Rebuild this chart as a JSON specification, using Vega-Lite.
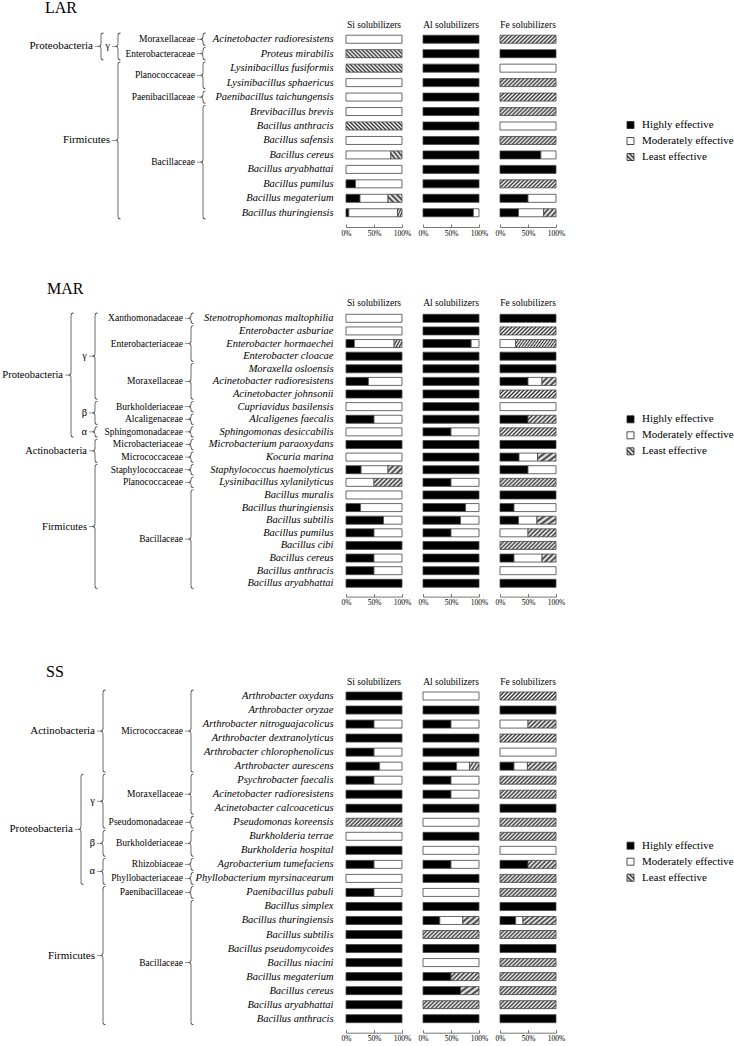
{
"$schema": "https://vega.github.io/schema/vega-lite/v6.json",
"background": "white",
"padding": 0,
"spacing": 44,
"config": {
  "view": {"stroke": null},
  "font": "Liberation Serif",
  "text": {"font": "Liberation Serif", "color": "#000"},
  "title": {"font": "Liberation Serif", "fontSize": 9.5, "fontWeight": "normal", "color": "#000", "offset": 4.5, "baseline": "alphabetic"},
  "axis": {"labelFont": "Liberation Serif", "labelColor": "#000"}
},
"datasets": {
"LAR": [
{"sp":"Acinetobacter radioresistens","ph":"Proteobacteria","cl":"γ","fa":"Moraxellaceae","Si_m":100,"Al_h":100,"Fe_p":100},
{"sp":"Proteus mirabilis","ph":"Proteobacteria","cl":"γ","fa":"Enterobacteraceae","Si_p":100,"Al_h":100,"Fe_h":100},
{"sp":"Lysinibacillus fusiformis","ph":"Firmicutes","fa":"Planococcaceae","Si_p":100,"Al_h":100,"Fe_m":100},
{"sp":"Lysinibacillus sphaericus","ph":"Firmicutes","fa":"Planococcaceae","Si_m":100,"Al_h":100,"Fe_p":100},
{"sp":"Paenibacillus taichungensis","ph":"Firmicutes","fa":"Paenibacillaceae","Si_m":100,"Al_h":100,"Fe_p":100},
{"sp":"Brevibacillus brevis","ph":"Firmicutes","fa":"Bacillaceae","Si_m":100,"Al_h":100,"Fe_p":100},
{"sp":"Bacillus anthracis","ph":"Firmicutes","fa":"Bacillaceae","Si_p":100,"Al_h":100,"Fe_m":100},
{"sp":"Bacillus safensis","ph":"Firmicutes","fa":"Bacillaceae","Si_m":100,"Al_h":100,"Fe_p":100},
{"sp":"Bacillus cereus","ph":"Firmicutes","fa":"Bacillaceae","Si_m":80,"Si_p":20,"Al_h":100,"Fe_h":73,"Fe_m":27},
{"sp":"Bacillus aryabhattai","ph":"Firmicutes","fa":"Bacillaceae","Si_m":100,"Al_h":100,"Fe_h":100},
{"sp":"Bacillus pumilus","ph":"Firmicutes","fa":"Bacillaceae","Si_h":17,"Si_m":83,"Al_h":100,"Fe_p":100},
{"sp":"Bacillus megaterium","ph":"Firmicutes","fa":"Bacillaceae","Si_h":25,"Si_m":50,"Si_p":25,"Al_h":100,"Fe_h":50,"Fe_m":50},
{"sp":"Bacillus thuringiensis","ph":"Firmicutes","fa":"Bacillaceae","Si_h":5,"Si_m":87,"Si_p":8,"Al_h":90,"Al_m":10,"Fe_h":33,"Fe_m":45,"Fe_p":22}
],
"MAR": [
{"sp":"Stenotrophomonas maltophilia","ph":"Proteobacteria","cl":"γ","fa":"Xanthomonadaceae","Si_m":100,"Al_h":100,"Fe_h":100},
{"sp":"Enterobacter asburiae","ph":"Proteobacteria","cl":"γ","fa":"Enterobacteriaceae","Si_m":100,"Al_h":100,"Fe_p":100},
{"sp":"Enterobacter hormaechei","ph":"Proteobacteria","cl":"γ","fa":"Enterobacteriaceae","Si_h":15,"Si_m":71,"Si_p":14,"Al_h":86,"Al_m":14,"Fe_m":28,"Fe_p":72},
{"sp":"Enterobacter cloacae","ph":"Proteobacteria","cl":"γ","fa":"Enterobacteriaceae","Si_h":100,"Al_h":100,"Fe_h":100},
{"sp":"Moraxella osloensis","ph":"Proteobacteria","cl":"γ","fa":"Moraxellaceae","Si_h":100,"Al_h":100,"Fe_h":100},
{"sp":"Acinetobacter radioresistens","ph":"Proteobacteria","cl":"γ","fa":"Moraxellaceae","Si_h":40,"Si_m":60,"Al_h":100,"Fe_h":50,"Fe_m":25,"Fe_p":25},
{"sp":"Acinetobacter johnsonii","ph":"Proteobacteria","cl":"γ","fa":"Moraxellaceae","Si_h":100,"Al_h":100,"Fe_p":100},
{"sp":"Cupriavidus basilensis","ph":"Proteobacteria","cl":"β","fa":"Burkholderiaceae","Si_m":100,"Al_h":100,"Fe_m":100},
{"sp":"Alcaligenes faecalis","ph":"Proteobacteria","cl":"β","fa":"Alcaligenaceae","Si_h":50,"Si_m":50,"Al_h":100,"Fe_h":50,"Fe_p":50},
{"sp":"Sphingomonas desiccabilis","ph":"Proteobacteria","cl":"α","fa":"Sphingomonadaceae","Si_m":100,"Al_h":50,"Al_m":50,"Fe_p":100},
{"sp":"Microbacterium paraoxydans","ph":"Actinobacteria","fa":"Microbacteriaceae","Si_h":100,"Al_h":100,"Fe_h":100},
{"sp":"Kocuria marina","ph":"Actinobacteria","fa":"Micrococcaceae","Si_m":100,"Al_h":100,"Fe_h":34,"Fe_m":33,"Fe_p":33},
{"sp":"Staphylococcus haemolyticus","ph":"Firmicutes","fa":"Staphylococcaceae","Si_h":27,"Si_m":48,"Si_p":25,"Al_h":100,"Fe_h":50,"Fe_m":50},
{"sp":"Lysinibacillus xylanilyticus","ph":"Firmicutes","fa":"Planococcaceae","Si_m":50,"Si_p":50,"Al_h":50,"Al_m":50,"Fe_p":100},
{"sp":"Bacillus muralis","ph":"Firmicutes","fa":"Bacillaceae","Si_m":100,"Al_h":100,"Fe_h":100},
{"sp":"Bacillus thuringiensis","ph":"Firmicutes","fa":"Bacillaceae","Si_h":26,"Si_m":74,"Al_h":76,"Al_m":24,"Fe_h":25,"Fe_m":75},
{"sp":"Bacillus subtilis","ph":"Firmicutes","fa":"Bacillaceae","Si_h":67,"Si_m":33,"Al_h":67,"Al_m":33,"Fe_h":33,"Fe_m":33,"Fe_p":34},
{"sp":"Bacillus pumilus","ph":"Firmicutes","fa":"Bacillaceae","Si_h":50,"Si_m":50,"Al_h":50,"Al_m":50,"Fe_m":50,"Fe_p":50},
{"sp":"Bacillus cibi","ph":"Firmicutes","fa":"Bacillaceae","Si_h":100,"Al_h":100,"Fe_p":100},
{"sp":"Bacillus cereus","ph":"Firmicutes","fa":"Bacillaceae","Si_h":50,"Si_m":50,"Al_h":100,"Fe_h":25,"Fe_m":50,"Fe_p":25},
{"sp":"Bacillus anthracis","ph":"Firmicutes","fa":"Bacillaceae","Si_h":50,"Si_m":50,"Al_h":100,"Fe_m":100},
{"sp":"Bacillus aryabhattai","ph":"Firmicutes","fa":"Bacillaceae","Si_h":100,"Al_h":100,"Fe_h":100}
],
"SS": [
{"sp":"Arthrobacter oxydans","ph":"Actinobacteria","fa":"Micrococcaceae","Si_h":100,"Al_m":100,"Fe_p":100},
{"sp":"Arthrobacter oryzae","ph":"Actinobacteria","fa":"Micrococcaceae","Si_h":100,"Al_h":100,"Fe_h":100},
{"sp":"Arthrobacter nitroguajacolicus","ph":"Actinobacteria","fa":"Micrococcaceae","Si_h":50,"Si_m":50,"Al_h":50,"Al_m":50,"Fe_m":50,"Fe_p":50},
{"sp":"Arthrobacter dextranolyticus","ph":"Actinobacteria","fa":"Micrococcaceae","Si_h":100,"Al_h":100,"Fe_p":100},
{"sp":"Arthrobacter chlorophenolicus","ph":"Actinobacteria","fa":"Micrococcaceae","Si_h":50,"Si_m":50,"Al_h":100,"Fe_m":100},
{"sp":"Arthrobacter aurescens","ph":"Actinobacteria","fa":"Micrococcaceae","Si_h":60,"Si_m":40,"Al_h":60,"Al_m":23,"Al_p":17,"Fe_h":25,"Fe_m":24,"Fe_p":51},
{"sp":"Psychrobacter faecalis","ph":"Proteobacteria","cl":"γ","fa":"Moraxellaceae","Si_h":50,"Si_m":50,"Al_h":50,"Al_m":50,"Fe_p":100},
{"sp":"Acinetobacter radioresistens","ph":"Proteobacteria","cl":"γ","fa":"Moraxellaceae","Si_h":100,"Al_h":50,"Al_m":50,"Fe_p":100},
{"sp":"Acinetobacter calcoaceticus","ph":"Proteobacteria","cl":"γ","fa":"Moraxellaceae","Si_h":100,"Al_h":100,"Fe_h":100},
{"sp":"Pseudomonas koreensis","ph":"Proteobacteria","cl":"γ","fa":"Pseudomonadaceae","Si_p":100,"Al_m":100,"Fe_p":100},
{"sp":"Burkholderia terrae","ph":"Proteobacteria","cl":"β","fa":"Burkholderiaceae","Si_m":100,"Al_h":100,"Fe_p":100},
{"sp":"Burkholderia hospital","ph":"Proteobacteria","cl":"β","fa":"Burkholderiaceae","Si_h":100,"Al_m":100,"Fe_m":100},
{"sp":"Agrobacterium tumefaciens","ph":"Proteobacteria","cl":"α","fa":"Rhizobiaceae","Si_h":50,"Si_m":50,"Al_h":50,"Al_m":50,"Fe_h":50,"Fe_p":50},
{"sp":"Phyllobacterium myrsinacearum","ph":"Proteobacteria","cl":"α","fa":"Phyllobacteriaceae","Si_m":100,"Al_h":100,"Fe_p":100},
{"sp":"Paenibacillus pabuli","ph":"Firmicutes","fa":"Paenibacillaceae","Si_h":50,"Si_m":50,"Al_m":100,"Fe_p":100},
{"sp":"Bacillus simplex","ph":"Firmicutes","fa":"Bacillaceae","Si_h":100,"Al_h":100,"Fe_h":100},
{"sp":"Bacillus thuringiensis","ph":"Firmicutes","fa":"Bacillaceae","Si_h":100,"Al_h":30,"Al_m":41,"Al_p":29,"Fe_h":28,"Fe_m":13,"Fe_p":59},
{"sp":"Bacillus subtilis","ph":"Firmicutes","fa":"Bacillaceae","Si_h":100,"Al_p":100,"Fe_p":100},
{"sp":"Bacillus pseudomycoides","ph":"Firmicutes","fa":"Bacillaceae","Si_h":100,"Al_h":100,"Fe_h":100},
{"sp":"Bacillus niacini","ph":"Firmicutes","fa":"Bacillaceae","Si_h":100,"Al_m":100,"Fe_p":100},
{"sp":"Bacillus megaterium","ph":"Firmicutes","fa":"Bacillaceae","Si_h":100,"Al_h":50,"Al_p":50,"Fe_p":100},
{"sp":"Bacillus cereus","ph":"Firmicutes","fa":"Bacillaceae","Si_h":100,"Al_h":67,"Al_p":33,"Fe_p":100},
{"sp":"Bacillus aryabhattai","ph":"Firmicutes","fa":"Bacillaceae","Si_h":100,"Al_p":100,"Fe_p":100},
{"sp":"Bacillus anthracis","ph":"Firmicutes","fa":"Bacillaceae","Si_h":100,"Al_h":100,"Fe_h":100}
],
"leg": [{"cat":"Highly effective","k":"h"},{"cat":"Moderately effective","k":"m"},{"cat":"Least effective","k":"p"}]
},
"vconcat": [
{"hconcat": [
 {"width":325,"height":188,"data":{"name":"LAR"},
  "title":{"text":"LAR","anchor":"start","frame":"group","fontSize":16,"dx":45,"offset":15.7},
  "transform":[{"window":[{"op":"row_number","as":"row"}]},{"fold":["ph","cl","fa"],"as":["rank","grp"]},{"filter":"datum.grp != null"},{"aggregate":[{"op":"min","field":"row","as":"r0"},{"op":"max","field":"row","as":"r1"},{"op":"mean","field":"row","as":"rm"},{"op":"valid","field":"cl","as":"nc"}],"groupby":["rank","grp"]}],
  "encoding":{"x":{"field":"rank","type":"nominal","scale":{"type":"point","domain":["ph","cl","s1","s2","s3","s4","fa"],"range":[101,203],"padding":0},"axis":null}},
  "layer":[
   {"transform":[{"filter":"datum.rank != 'ph' || datum.nc > 0"}],
    "layer":[
     {"mark":{"type":"arc","theta":4.712,"theta2":6.2832,"radius":2.9,"radius2":2.1,"fill":"#444","xOffset":2.5,"yOffset":-3.725},"encoding":{"y":{"field":"r0","type":"quantitative","stack":null,"scale":{"domain":[0.5,13.5],"reverse":true,"nice":false,"zero":false},"axis":null}}},
     {"mark":{"type":"rule","color":"#444","strokeWidth":0.8,"yOffset":-3.725,"y2Offset":-2.5},"encoding":{"y":{"field":"r0","type":"quantitative","scale":{"domain":[0.5,13.5],"reverse":true,"nice":false,"zero":false},"axis":null},"y2":{"field":"rm"}}},
     {"mark":{"type":"arc","theta":1.5708,"theta2":3.1416,"radius":2.9,"radius2":2.1,"fill":"#444","xOffset":-2.5,"yOffset":-2.5},"encoding":{"y":{"field":"rm","type":"quantitative","stack":null,"scale":{"domain":[0.5,13.5],"reverse":true,"nice":false,"zero":false},"axis":null}}},
     {"mark":{"type":"arc","theta":0,"theta2":1.5708,"radius":2.9,"radius2":2.1,"fill":"#444","xOffset":-2.5,"yOffset":2.5},"encoding":{"y":{"field":"rm","type":"quantitative","stack":null,"scale":{"domain":[0.5,13.5],"reverse":true,"nice":false,"zero":false},"axis":null}}},
     {"mark":{"type":"rule","color":"#444","strokeWidth":0.8,"yOffset":2.5,"y2Offset":3.725},"encoding":{"y":{"field":"rm","type":"quantitative","scale":{"domain":[0.5,13.5],"reverse":true,"nice":false,"zero":false},"axis":null},"y2":{"field":"r1"}}},
     {"mark":{"type":"arc","theta":3.1416,"theta2":4.712,"radius":2.9,"radius2":2.1,"fill":"#444","xOffset":2.5,"yOffset":3.725},"encoding":{"y":{"field":"r1","type":"quantitative","stack":null,"scale":{"domain":[0.5,13.5],"reverse":true,"nice":false,"zero":false},"axis":null}}},
     {"mark":{"type":"tick","orient":"horizontal","size":3.5,"thickness":0.8,"color":"#444","xOffset":-4.3},"encoding":{"y":{"field":"rm","type":"quantitative","scale":{"domain":[0.5,13.5],"reverse":true,"nice":false,"zero":false},"axis":null}}}
    ]},
   {"transform":[{"filter":"datum.rank == 'ph' && datum.nc == 0"}],
    "encoding":{"x":{"datum":"cl","type":"nominal"}},
    "layer":[
     {"mark":{"type":"arc","theta":4.712,"theta2":6.2832,"radius":2.9,"radius2":2.1,"fill":"#444","xOffset":2.5,"yOffset":-3.725},"encoding":{"y":{"field":"r0","type":"quantitative","stack":null,"scale":{"domain":[0.5,13.5],"reverse":true,"nice":false,"zero":false},"axis":null}}},
     {"mark":{"type":"rule","color":"#444","strokeWidth":0.8,"yOffset":-3.725,"y2Offset":-2.5},"encoding":{"y":{"field":"r0","type":"quantitative","scale":{"domain":[0.5,13.5],"reverse":true,"nice":false,"zero":false},"axis":null},"y2":{"field":"rm"}}},
     {"mark":{"type":"arc","theta":1.5708,"theta2":3.1416,"radius":2.9,"radius2":2.1,"fill":"#444","xOffset":-2.5,"yOffset":-2.5},"encoding":{"y":{"field":"rm","type":"quantitative","stack":null,"scale":{"domain":[0.5,13.5],"reverse":true,"nice":false,"zero":false},"axis":null}}},
     {"mark":{"type":"arc","theta":0,"theta2":1.5708,"radius":2.9,"radius2":2.1,"fill":"#444","xOffset":-2.5,"yOffset":2.5},"encoding":{"y":{"field":"rm","type":"quantitative","stack":null,"scale":{"domain":[0.5,13.5],"reverse":true,"nice":false,"zero":false},"axis":null}}},
     {"mark":{"type":"rule","color":"#444","strokeWidth":0.8,"yOffset":2.5,"y2Offset":3.725},"encoding":{"y":{"field":"rm","type":"quantitative","scale":{"domain":[0.5,13.5],"reverse":true,"nice":false,"zero":false},"axis":null},"y2":{"field":"r1"}}},
     {"mark":{"type":"arc","theta":3.1416,"theta2":4.712,"radius":2.9,"radius2":2.1,"fill":"#444","xOffset":2.5,"yOffset":3.725},"encoding":{"y":{"field":"r1","type":"quantitative","stack":null,"scale":{"domain":[0.5,13.5],"reverse":true,"nice":false,"zero":false},"axis":null}}},
     {"mark":{"type":"tick","orient":"horizontal","size":3.5,"thickness":0.8,"color":"#444","xOffset":-4.3},"encoding":{"y":{"field":"rm","type":"quantitative","scale":{"domain":[0.5,13.5],"reverse":true,"nice":false,"zero":false},"axis":null}}}
    ]},
   {"transform":[{"filter":"datum.rank == 'ph' && datum.nc > 0"}],"mark":{"type":"text","align":"right","baseline":"middle","fontSize":11,"xOffset":-8},"encoding":{"y":{"field":"rm","type":"quantitative","scale":{"domain":[0.5,13.5],"reverse":true,"nice":false,"zero":false},"axis":null},"text":{"field":"grp"}}},
   {"transform":[{"filter":"datum.rank == 'ph' && datum.nc == 0"}],"mark":{"type":"text","align":"right","baseline":"middle","fontSize":11,"xOffset":-8},"encoding":{"x":{"datum":"cl","type":"nominal"},"y":{"field":"rm","type":"quantitative","scale":{"domain":[0.5,13.5],"reverse":true,"nice":false,"zero":false},"axis":null},"text":{"field":"grp"}}},
   {"transform":[{"filter":"datum.rank == 'cl'"}],"mark":{"type":"text","align":"right","baseline":"middle","fontSize":10,"xOffset":-8},"encoding":{"y":{"field":"rm","type":"quantitative","scale":{"domain":[0.5,13.5],"reverse":true,"nice":false,"zero":false},"axis":null},"text":{"field":"grp"}}},
   {"transform":[{"filter":"datum.rank == 'fa'"}],"mark":{"type":"text","align":"right","baseline":"middle","fontSize":9.5,"xOffset":-8},"encoding":{"y":{"field":"rm","type":"quantitative","scale":{"domain":[0.5,13.5],"reverse":true,"nice":false,"zero":false},"axis":null},"text":{"field":"grp"}}}
  ]},
 {"width":56,"height":188,"data":{"name":"LAR"},"title":{"text":"Si solubilizers","offset":2.5},
  "transform":[{"fold":["Si_h","Si_m","Si_p"],"as":["cat","v"]},{"filter":"datum.v > 0"},{"stack":"v","groupby":["sp"],"as":["x0","x1"]}],
  "mark":{"type":"rect","stroke":"#444","strokeWidth":0.8},
  "encoding":{
   "y":{"field":"sp","type":"nominal","sort":null,"scale":{"paddingInner":0.446,"paddingOuter":0.223},"axis":{"title":null,"domain":false,"ticks":false,"labelPadding":13,"labelFontStyle":"italic","labelFontSize":10.5,"labelLimit":300}},
   "x":{"field":"x0","type":"quantitative","scale":{"domain":[0,100]},"axis":{"values":[0,50,100],"labelExpr":"datum.value + '%'","title":null,"grid":false,"offset":7,"tickSize":-3,"labelPadding":5,"labelFontSize":7.5,"labelFlush":false,"domainColor":"#555","tickColor":"#555","domainWidth":0.8,"tickWidth":0.8}},
   "x2":{"field":"x1"},
   "fill":{"condition":[{"test":"indexof(datum.cat,'_h')>0","value":"#000"},{"test":"indexof(datum.cat,'_m')>0","value":"#fff"},{"test":"datum.v >= 60","value":{"gradient":"linear","x1":0,"y1":1,"x2":1.12,"y2":0.84,"stops":[{"offset":0,"color":"#333"},{"offset":0.031,"color":"#fff"},{"offset":0.063,"color":"#333"},{"offset":0.094,"color":"#fff"},{"offset":0.125,"color":"#333"},{"offset":0.156,"color":"#fff"},{"offset":0.188,"color":"#333"},{"offset":0.219,"color":"#fff"},{"offset":0.25,"color":"#333"},{"offset":0.281,"color":"#fff"},{"offset":0.313,"color":"#333"},{"offset":0.344,"color":"#fff"},{"offset":0.375,"color":"#333"},{"offset":0.406,"color":"#fff"},{"offset":0.438,"color":"#333"},{"offset":0.469,"color":"#fff"},{"offset":0.5,"color":"#333"},{"offset":0.531,"color":"#fff"},{"offset":0.563,"color":"#333"},{"offset":0.594,"color":"#fff"},{"offset":0.625,"color":"#333"},{"offset":0.656,"color":"#fff"},{"offset":0.688,"color":"#333"},{"offset":0.719,"color":"#fff"},{"offset":0.75,"color":"#333"},{"offset":0.781,"color":"#fff"},{"offset":0.813,"color":"#333"},{"offset":0.844,"color":"#fff"},{"offset":0.875,"color":"#333"},{"offset":0.906,"color":"#fff"},{"offset":0.938,"color":"#333"},{"offset":0.969,"color":"#fff"},{"offset":1,"color":"#333"}]}}],
    "value":{"gradient":"linear","x1":0,"y1":1,"x2":1.185,"y2":0.325,"stops":[{"offset":0,"color":"#333"},{"offset":0.125,"color":"#fff"},{"offset":0.25,"color":"#333"},{"offset":0.375,"color":"#fff"},{"offset":0.5,"color":"#333"},{"offset":0.625,"color":"#fff"},{"offset":0.75,"color":"#333"},{"offset":0.875,"color":"#fff"},{"offset":1,"color":"#333"}]}}
  }},
 {"width":56,"height":188,"data":{"name":"LAR"},"title":{"text":"Al solubilizers","offset":2.5},
  "transform":[{"fold":["Al_h","Al_m","Al_p"],"as":["cat","v"]},{"filter":"datum.v > 0"},{"stack":"v","groupby":["sp"],"as":["x0","x1"]}],
  "mark":{"type":"rect","stroke":"#444","strokeWidth":0.8},
  "encoding":{
   "y":{"field":"sp","type":"nominal","sort":null,"scale":{"paddingInner":0.446,"paddingOuter":0.223},"axis":null},
   "x":{"field":"x0","type":"quantitative","scale":{"domain":[0,100]},"axis":{"values":[0,50,100],"labelExpr":"datum.value + '%'","title":null,"grid":false,"offset":7,"tickSize":-3,"labelPadding":5,"labelFontSize":7.5,"labelFlush":false,"domainColor":"#555","tickColor":"#555","domainWidth":0.8,"tickWidth":0.8}},
   "x2":{"field":"x1"},
   "fill":{"condition":[{"test":"indexof(datum.cat,'_h')>0","value":"#000"}],"value":"#fff"}
  }},
 {"width":56,"height":188,"data":{"name":"LAR"},"title":{"text":"Fe solubilizers","offset":2.5},
  "transform":[{"fold":["Fe_h","Fe_m","Fe_p"],"as":["cat","v"]},{"filter":"datum.v > 0"},{"stack":"v","groupby":["sp"],"as":["x0","x1"]}],
  "mark":{"type":"rect","stroke":"#444","strokeWidth":0.8},
  "encoding":{
   "y":{"field":"sp","type":"nominal","sort":null,"scale":{"paddingInner":0.446,"paddingOuter":0.223},"axis":null},
   "x":{"field":"x0","type":"quantitative","scale":{"domain":[0,100]},"axis":{"values":[0,50,100],"labelExpr":"datum.value + '%'","title":null,"grid":false,"offset":7,"tickSize":-3,"labelPadding":5,"labelFontSize":7.5,"labelFlush":false,"domainColor":"#555","tickColor":"#555","domainWidth":0.8,"tickWidth":0.8}},
   "x2":{"field":"x1"},
   "fill":{"condition":[{"test":"indexof(datum.cat,'_h')>0","value":"#000"},{"test":"indexof(datum.cat,'_m')>0","value":"#fff"},{"test":"datum.v >= 60","value":{"gradient":"linear","x1":0,"y1":0,"x2":1.12,"y2":0.16,"stops":[{"offset":0,"color":"#333"},{"offset":0.031,"color":"#fff"},{"offset":0.063,"color":"#333"},{"offset":0.094,"color":"#fff"},{"offset":0.125,"color":"#333"},{"offset":0.156,"color":"#fff"},{"offset":0.188,"color":"#333"},{"offset":0.219,"color":"#fff"},{"offset":0.25,"color":"#333"},{"offset":0.281,"color":"#fff"},{"offset":0.313,"color":"#333"},{"offset":0.344,"color":"#fff"},{"offset":0.375,"color":"#333"},{"offset":0.406,"color":"#fff"},{"offset":0.438,"color":"#333"},{"offset":0.469,"color":"#fff"},{"offset":0.5,"color":"#333"},{"offset":0.531,"color":"#fff"},{"offset":0.563,"color":"#333"},{"offset":0.594,"color":"#fff"},{"offset":0.625,"color":"#333"},{"offset":0.656,"color":"#fff"},{"offset":0.688,"color":"#333"},{"offset":0.719,"color":"#fff"},{"offset":0.75,"color":"#333"},{"offset":0.781,"color":"#fff"},{"offset":0.813,"color":"#333"},{"offset":0.844,"color":"#fff"},{"offset":0.875,"color":"#333"},{"offset":0.906,"color":"#fff"},{"offset":0.938,"color":"#333"},{"offset":0.969,"color":"#fff"},{"offset":1,"color":"#333"}]}}],
    "value":{"gradient":"linear","x1":0,"y1":0,"x2":1.185,"y2":0.675,"stops":[{"offset":0,"color":"#333"},{"offset":0.125,"color":"#fff"},{"offset":0.25,"color":"#333"},{"offset":0.375,"color":"#fff"},{"offset":0.5,"color":"#333"},{"offset":0.625,"color":"#fff"},{"offset":0.75,"color":"#333"},{"offset":0.875,"color":"#fff"},{"offset":1,"color":"#333"}]}}
  }},
 {"width":150,"height":188,"data":{"name":"leg"},
  "encoding":{"y":{"field":"cat","type":"nominal","sort":null,"scale":{"type":"point","range":[93,125],"padding":0},"axis":null}},
  "layer":[
   {"mark":{"type":"square","size":49,"opacity":1,"stroke":"#222","strokeWidth":0.8},"encoding":{"x":{"datum":"sw","type":"nominal","scale":{"type":"point","domain":["sw","lab"],"range":[53.5,65],"padding":0},"axis":null},"fill":{"condition":[{"test":"datum.k=='h'","value":"#000"},{"test":"datum.k=='m'","value":"#fff"}],"value":{"gradient":"linear","x1":0,"y1":1,"x2":1,"y2":0,"stops":[{"offset":0,"color":"#333"},{"offset":0.167,"color":"#fff"},{"offset":0.333,"color":"#333"},{"offset":0.5,"color":"#fff"},{"offset":0.667,"color":"#333"},{"offset":0.833,"color":"#fff"},{"offset":1,"color":"#333"}]}}}},
   {"mark":{"type":"text","align":"left","baseline":"middle","fontSize":11},"encoding":{"x":{"datum":"lab","type":"nominal"},"text":{"field":"cat"}}}
  ]}
 ], "spacing": 21, "bounds": "flush"},
{"hconcat": [
 {"width":325,"height":277.6,"data":{"name":"MAR"},
  "title":{"text":"MAR","anchor":"start","frame":"group","fontSize":16,"dx":47,"offset":15},
  "transform":[{"window":[{"op":"row_number","as":"row"}]},{"fold":["ph","cl","fa"],"as":["rank","grp"]},{"filter":"datum.grp != null"},{"aggregate":[{"op":"min","field":"row","as":"r0"},{"op":"max","field":"row","as":"r1"},{"op":"mean","field":"row","as":"rm"},{"op":"valid","field":"cl","as":"nc"}],"groupby":["rank","grp"]}],
  "encoding":{"x":{"field":"rank","type":"nominal","scale":{"type":"point","domain":["ph","cl","s1","s2","s3","fa"],"range":[71,191],"padding":0},"axis":null}},
  "layer":[
   {"transform":[{"filter":"datum.rank != 'ph' || datum.nc > 0"}],
    "layer":[
     {"mark":{"type":"arc","theta":4.712,"theta2":6.2832,"radius":2.9,"radius2":2.1,"fill":"#444","xOffset":2.5,"yOffset":-2.81},"encoding":{"y":{"field":"r0","type":"quantitative","stack":null,"scale":{"domain":[0.5,22.5],"reverse":true,"nice":false,"zero":false},"axis":null}}},
     {"mark":{"type":"rule","color":"#444","strokeWidth":0.8,"yOffset":-2.81,"y2Offset":-2.5},"encoding":{"y":{"field":"r0","type":"quantitative","scale":{"domain":[0.5,22.5],"reverse":true,"nice":false,"zero":false},"axis":null},"y2":{"field":"rm"}}},
     {"mark":{"type":"arc","theta":1.5708,"theta2":3.1416,"radius":2.9,"radius2":2.1,"fill":"#444","xOffset":-2.5,"yOffset":-2.5},"encoding":{"y":{"field":"rm","type":"quantitative","stack":null,"scale":{"domain":[0.5,22.5],"reverse":true,"nice":false,"zero":false},"axis":null}}},
     {"mark":{"type":"arc","theta":0,"theta2":1.5708,"radius":2.9,"radius2":2.1,"fill":"#444","xOffset":-2.5,"yOffset":2.5},"encoding":{"y":{"field":"rm","type":"quantitative","stack":null,"scale":{"domain":[0.5,22.5],"reverse":true,"nice":false,"zero":false},"axis":null}}},
     {"mark":{"type":"rule","color":"#444","strokeWidth":0.8,"yOffset":2.5,"y2Offset":2.81},"encoding":{"y":{"field":"rm","type":"quantitative","scale":{"domain":[0.5,22.5],"reverse":true,"nice":false,"zero":false},"axis":null},"y2":{"field":"r1"}}},
     {"mark":{"type":"arc","theta":3.1416,"theta2":4.712,"radius":2.9,"radius2":2.1,"fill":"#444","xOffset":2.5,"yOffset":2.81},"encoding":{"y":{"field":"r1","type":"quantitative","stack":null,"scale":{"domain":[0.5,22.5],"reverse":true,"nice":false,"zero":false},"axis":null}}},
     {"mark":{"type":"tick","orient":"horizontal","size":3.5,"thickness":0.8,"color":"#444","xOffset":-4.3},"encoding":{"y":{"field":"rm","type":"quantitative","scale":{"domain":[0.5,22.5],"reverse":true,"nice":false,"zero":false},"axis":null}}}
    ]},
   {"transform":[{"filter":"datum.rank == 'ph' && datum.nc == 0"}],
    "encoding":{"x":{"datum":"cl","type":"nominal"}},
    "layer":[
     {"mark":{"type":"arc","theta":4.712,"theta2":6.2832,"radius":2.9,"radius2":2.1,"fill":"#444","xOffset":2.5,"yOffset":-2.81},"encoding":{"y":{"field":"r0","type":"quantitative","stack":null,"scale":{"domain":[0.5,22.5],"reverse":true,"nice":false,"zero":false},"axis":null}}},
     {"mark":{"type":"rule","color":"#444","strokeWidth":0.8,"yOffset":-2.81,"y2Offset":-2.5},"encoding":{"y":{"field":"r0","type":"quantitative","scale":{"domain":[0.5,22.5],"reverse":true,"nice":false,"zero":false},"axis":null},"y2":{"field":"rm"}}},
     {"mark":{"type":"arc","theta":1.5708,"theta2":3.1416,"radius":2.9,"radius2":2.1,"fill":"#444","xOffset":-2.5,"yOffset":-2.5},"encoding":{"y":{"field":"rm","type":"quantitative","stack":null,"scale":{"domain":[0.5,22.5],"reverse":true,"nice":false,"zero":false},"axis":null}}},
     {"mark":{"type":"arc","theta":0,"theta2":1.5708,"radius":2.9,"radius2":2.1,"fill":"#444","xOffset":-2.5,"yOffset":2.5},"encoding":{"y":{"field":"rm","type":"quantitative","stack":null,"scale":{"domain":[0.5,22.5],"reverse":true,"nice":false,"zero":false},"axis":null}}},
     {"mark":{"type":"rule","color":"#444","strokeWidth":0.8,"yOffset":2.5,"y2Offset":2.81},"encoding":{"y":{"field":"rm","type":"quantitative","scale":{"domain":[0.5,22.5],"reverse":true,"nice":false,"zero":false},"axis":null},"y2":{"field":"r1"}}},
     {"mark":{"type":"arc","theta":3.1416,"theta2":4.712,"radius":2.9,"radius2":2.1,"fill":"#444","xOffset":2.5,"yOffset":2.81},"encoding":{"y":{"field":"r1","type":"quantitative","stack":null,"scale":{"domain":[0.5,22.5],"reverse":true,"nice":false,"zero":false},"axis":null}}},
     {"mark":{"type":"tick","orient":"horizontal","size":3.5,"thickness":0.8,"color":"#444","xOffset":-4.3},"encoding":{"y":{"field":"rm","type":"quantitative","scale":{"domain":[0.5,22.5],"reverse":true,"nice":false,"zero":false},"axis":null}}}
    ]},
   {"transform":[{"filter":"datum.rank == 'ph' && datum.nc > 0"}],"mark":{"type":"text","align":"right","baseline":"middle","fontSize":10.5,"xOffset":-8},"encoding":{"y":{"field":"rm","type":"quantitative","scale":{"domain":[0.5,22.5],"reverse":true,"nice":false,"zero":false},"axis":null},"text":{"field":"grp"}}},
   {"transform":[{"filter":"datum.rank == 'ph' && datum.nc == 0"}],"mark":{"type":"text","align":"right","baseline":"middle","fontSize":10.5,"xOffset":-8},"encoding":{"x":{"datum":"cl","type":"nominal"},"y":{"field":"rm","type":"quantitative","scale":{"domain":[0.5,22.5],"reverse":true,"nice":false,"zero":false},"axis":null},"text":{"field":"grp"}}},
   {"transform":[{"filter":"datum.rank == 'cl'"}],"mark":{"type":"text","align":"right","baseline":"middle","fontSize":10.5,"xOffset":-8},"encoding":{"y":{"field":"rm","type":"quantitative","scale":{"domain":[0.5,22.5],"reverse":true,"nice":false,"zero":false},"axis":null},"text":{"field":"grp"}}},
   {"transform":[{"filter":"datum.rank == 'fa'"}],"mark":{"type":"text","align":"right","baseline":"middle","fontSize":9.5,"xOffset":-8},"encoding":{"y":{"field":"rm","type":"quantitative","scale":{"domain":[0.5,22.5],"reverse":true,"nice":false,"zero":false},"axis":null},"text":{"field":"grp"}}}
  ]},
 {"width":56,"height":277.6,"data":{"name":"MAR"},"title":{"text":"Si solubilizers"},
  "transform":[{"fold":["Si_h","Si_m","Si_p"],"as":["cat","v"]},{"filter":"datum.v > 0"},{"stack":"v","groupby":["sp"],"as":["x0","x1"]}],
  "mark":{"type":"rect","stroke":"#444","strokeWidth":0.8},
  "encoding":{
   "y":{"field":"sp","type":"nominal","sort":null,"scale":{"paddingInner":0.366,"paddingOuter":0.183},"axis":{"title":null,"domain":false,"ticks":false,"labelPadding":13,"labelFontStyle":"italic","labelFontSize":10.5,"labelLimit":300}},
   "x":{"field":"x0","type":"quantitative","scale":{"domain":[0,100]},"axis":{"values":[0,50,100],"labelExpr":"datum.value + '%'","title":null,"grid":false,"offset":7,"tickSize":-3,"labelPadding":5,"labelFontSize":7.5,"labelFlush":false,"domainColor":"#555","tickColor":"#555","domainWidth":0.8,"tickWidth":0.8}},
   "x2":{"field":"x1"},
   "fill":{"condition":[{"test":"indexof(datum.cat,'_h')>0","value":"#000"},{"test":"indexof(datum.cat,'_m')>0","value":"#fff"},{"test":"datum.v >= 35","value":{"gradient":"linear","x1":0,"y1":0,"x2":1.19,"y2":0.34,"stops":[{"offset":0,"color":"#333"},{"offset":0.063,"color":"#fff"},{"offset":0.125,"color":"#333"},{"offset":0.188,"color":"#fff"},{"offset":0.25,"color":"#333"},{"offset":0.313,"color":"#fff"},{"offset":0.375,"color":"#333"},{"offset":0.438,"color":"#fff"},{"offset":0.5,"color":"#333"},{"offset":0.563,"color":"#fff"},{"offset":0.625,"color":"#333"},{"offset":0.688,"color":"#fff"},{"offset":0.75,"color":"#333"},{"offset":0.813,"color":"#fff"},{"offset":0.875,"color":"#333"},{"offset":0.938,"color":"#fff"},{"offset":1,"color":"#333"}]}}],
    "value":{"gradient":"linear","x1":0,"y1":0,"x2":1.185,"y2":0.675,"stops":[{"offset":0,"color":"#333"},{"offset":0.125,"color":"#fff"},{"offset":0.25,"color":"#333"},{"offset":0.375,"color":"#fff"},{"offset":0.5,"color":"#333"},{"offset":0.625,"color":"#fff"},{"offset":0.75,"color":"#333"},{"offset":0.875,"color":"#fff"},{"offset":1,"color":"#333"}]}}
  }},
 {"width":56,"height":277.6,"data":{"name":"MAR"},"title":{"text":"Al solubilizers"},
  "transform":[{"fold":["Al_h","Al_m","Al_p"],"as":["cat","v"]},{"filter":"datum.v > 0"},{"stack":"v","groupby":["sp"],"as":["x0","x1"]}],
  "mark":{"type":"rect","stroke":"#444","strokeWidth":0.8},
  "encoding":{
   "y":{"field":"sp","type":"nominal","sort":null,"scale":{"paddingInner":0.366,"paddingOuter":0.183},"axis":null},
   "x":{"field":"x0","type":"quantitative","scale":{"domain":[0,100]},"axis":{"values":[0,50,100],"labelExpr":"datum.value + '%'","title":null,"grid":false,"offset":7,"tickSize":-3,"labelPadding":5,"labelFontSize":7.5,"labelFlush":false,"domainColor":"#555","tickColor":"#555","domainWidth":0.8,"tickWidth":0.8}},
   "x2":{"field":"x1"},
   "fill":{"condition":[{"test":"indexof(datum.cat,'_h')>0","value":"#000"}],"value":"#fff"}
  }},
 {"width":56,"height":277.6,"data":{"name":"MAR"},"title":{"text":"Fe solubilizers"},
  "transform":[{"fold":["Fe_h","Fe_m","Fe_p"],"as":["cat","v"]},{"filter":"datum.v > 0"},{"stack":"v","groupby":["sp"],"as":["x0","x1"]}],
  "mark":{"type":"rect","stroke":"#444","strokeWidth":0.8},
  "encoding":{
   "y":{"field":"sp","type":"nominal","sort":null,"scale":{"paddingInner":0.366,"paddingOuter":0.183},"axis":null},
   "x":{"field":"x0","type":"quantitative","scale":{"domain":[0,100]},"axis":{"values":[0,50,100],"labelExpr":"datum.value + '%'","title":null,"grid":false,"offset":7,"tickSize":-3,"labelPadding":5,"labelFontSize":7.5,"labelFlush":false,"domainColor":"#555","tickColor":"#555","domainWidth":0.8,"tickWidth":0.8}},
   "x2":{"field":"x1"},
   "fill":{"condition":[{"test":"indexof(datum.cat,'_h')>0","value":"#000"},{"test":"indexof(datum.cat,'_m')>0","value":"#fff"},{"test":"datum.v >= 60","value":{"gradient":"linear","x1":0,"y1":0,"x2":1.12,"y2":0.16,"stops":[{"offset":0,"color":"#333"},{"offset":0.031,"color":"#fff"},{"offset":0.063,"color":"#333"},{"offset":0.094,"color":"#fff"},{"offset":0.125,"color":"#333"},{"offset":0.156,"color":"#fff"},{"offset":0.188,"color":"#333"},{"offset":0.219,"color":"#fff"},{"offset":0.25,"color":"#333"},{"offset":0.281,"color":"#fff"},{"offset":0.313,"color":"#333"},{"offset":0.344,"color":"#fff"},{"offset":0.375,"color":"#333"},{"offset":0.406,"color":"#fff"},{"offset":0.438,"color":"#333"},{"offset":0.469,"color":"#fff"},{"offset":0.5,"color":"#333"},{"offset":0.531,"color":"#fff"},{"offset":0.563,"color":"#333"},{"offset":0.594,"color":"#fff"},{"offset":0.625,"color":"#333"},{"offset":0.656,"color":"#fff"},{"offset":0.688,"color":"#333"},{"offset":0.719,"color":"#fff"},{"offset":0.75,"color":"#333"},{"offset":0.781,"color":"#fff"},{"offset":0.813,"color":"#333"},{"offset":0.844,"color":"#fff"},{"offset":0.875,"color":"#333"},{"offset":0.906,"color":"#fff"},{"offset":0.938,"color":"#333"},{"offset":0.969,"color":"#fff"},{"offset":1,"color":"#333"}]}},{"test":"datum.v >= 35","value":{"gradient":"linear","x1":0,"y1":0,"x2":1.19,"y2":0.34,"stops":[{"offset":0,"color":"#333"},{"offset":0.063,"color":"#fff"},{"offset":0.125,"color":"#333"},{"offset":0.188,"color":"#fff"},{"offset":0.25,"color":"#333"},{"offset":0.313,"color":"#fff"},{"offset":0.375,"color":"#333"},{"offset":0.438,"color":"#fff"},{"offset":0.5,"color":"#333"},{"offset":0.563,"color":"#fff"},{"offset":0.625,"color":"#333"},{"offset":0.688,"color":"#fff"},{"offset":0.75,"color":"#333"},{"offset":0.813,"color":"#fff"},{"offset":0.875,"color":"#333"},{"offset":0.938,"color":"#fff"},{"offset":1,"color":"#333"}]}}],
    "value":{"gradient":"linear","x1":0,"y1":0,"x2":1.185,"y2":0.675,"stops":[{"offset":0,"color":"#333"},{"offset":0.125,"color":"#fff"},{"offset":0.25,"color":"#333"},{"offset":0.375,"color":"#fff"},{"offset":0.5,"color":"#333"},{"offset":0.625,"color":"#fff"},{"offset":0.75,"color":"#333"},{"offset":0.875,"color":"#fff"},{"offset":1,"color":"#333"}]}}
  }},
 {"width":150,"height":308,"data":{"name":"leg"},
  "encoding":{"y":{"field":"cat","type":"nominal","sort":null,"scale":{"type":"point","range":[107.3,139.3],"padding":0},"axis":null}},
  "layer":[
   {"mark":{"type":"square","size":49,"opacity":1,"stroke":"#222","strokeWidth":0.8},"encoding":{"x":{"datum":"sw","type":"nominal","scale":{"type":"point","domain":["sw","lab"],"range":[53.5,65],"padding":0},"axis":null},"fill":{"condition":[{"test":"datum.k=='h'","value":"#000"},{"test":"datum.k=='m'","value":"#fff"}],"value":{"gradient":"linear","x1":0,"y1":1,"x2":1,"y2":0,"stops":[{"offset":0,"color":"#333"},{"offset":0.167,"color":"#fff"},{"offset":0.333,"color":"#333"},{"offset":0.5,"color":"#fff"},{"offset":0.667,"color":"#333"},{"offset":0.833,"color":"#fff"},{"offset":1,"color":"#333"}]}}}},
   {"mark":{"type":"text","align":"left","baseline":"middle","fontSize":11},"encoding":{"x":{"datum":"lab","type":"nominal"},"text":{"field":"cat"}}}
  ]}
 ], "spacing": 21, "bounds": "flush"},
{"hconcat": [
 {"width":325,"height":336.7,"data":{"name":"SS"},
  "title":{"text":"SS","anchor":"start","frame":"group","fontSize":16,"dx":46,"offset":8.6},
  "transform":[{"window":[{"op":"row_number","as":"row"}]},{"fold":["ph","cl","fa"],"as":["rank","grp"]},{"filter":"datum.grp != null"},{"aggregate":[{"op":"min","field":"row","as":"r0"},{"op":"max","field":"row","as":"r1"},{"op":"mean","field":"row","as":"rm"},{"op":"valid","field":"cl","as":"nc"}],"groupby":["rank","grp"]}],
  "encoding":{"x":{"field":"rank","type":"nominal","scale":{"type":"point","domain":["ph","cl","s1","s2","s3","fa"],"range":[81,191],"padding":0},"axis":null}},
  "layer":[
   {"transform":[{"filter":"datum.rank != 'ph' || datum.nc > 0"}],
    "layer":[
     {"mark":{"type":"arc","theta":4.712,"theta2":6.2832,"radius":2.9,"radius2":2.1,"fill":"#444","xOffset":2.5,"yOffset":-3.515},"encoding":{"y":{"field":"r0","type":"quantitative","stack":null,"scale":{"domain":[0.5,24.5],"reverse":true,"nice":false,"zero":false},"axis":null}}},
     {"mark":{"type":"rule","color":"#444","strokeWidth":0.8,"yOffset":-3.515,"y2Offset":-2.5},"encoding":{"y":{"field":"r0","type":"quantitative","scale":{"domain":[0.5,24.5],"reverse":true,"nice":false,"zero":false},"axis":null},"y2":{"field":"rm"}}},
     {"mark":{"type":"arc","theta":1.5708,"theta2":3.1416,"radius":2.9,"radius2":2.1,"fill":"#444","xOffset":-2.5,"yOffset":-2.5},"encoding":{"y":{"field":"rm","type":"quantitative","stack":null,"scale":{"domain":[0.5,24.5],"reverse":true,"nice":false,"zero":false},"axis":null}}},
     {"mark":{"type":"arc","theta":0,"theta2":1.5708,"radius":2.9,"radius2":2.1,"fill":"#444","xOffset":-2.5,"yOffset":2.5},"encoding":{"y":{"field":"rm","type":"quantitative","stack":null,"scale":{"domain":[0.5,24.5],"reverse":true,"nice":false,"zero":false},"axis":null}}},
     {"mark":{"type":"rule","color":"#444","strokeWidth":0.8,"yOffset":2.5,"y2Offset":3.515},"encoding":{"y":{"field":"rm","type":"quantitative","scale":{"domain":[0.5,24.5],"reverse":true,"nice":false,"zero":false},"axis":null},"y2":{"field":"r1"}}},
     {"mark":{"type":"arc","theta":3.1416,"theta2":4.712,"radius":2.9,"radius2":2.1,"fill":"#444","xOffset":2.5,"yOffset":3.515},"encoding":{"y":{"field":"r1","type":"quantitative","stack":null,"scale":{"domain":[0.5,24.5],"reverse":true,"nice":false,"zero":false},"axis":null}}},
     {"mark":{"type":"tick","orient":"horizontal","size":3.5,"thickness":0.8,"color":"#444","xOffset":-4.3},"encoding":{"y":{"field":"rm","type":"quantitative","scale":{"domain":[0.5,24.5],"reverse":true,"nice":false,"zero":false},"axis":null}}}
    ]},
   {"transform":[{"filter":"datum.rank == 'ph' && datum.nc == 0"}],
    "encoding":{"x":{"datum":"cl","type":"nominal"}},
    "layer":[
     {"mark":{"type":"arc","theta":4.712,"theta2":6.2832,"radius":2.9,"radius2":2.1,"fill":"#444","xOffset":2.5,"yOffset":-3.515},"encoding":{"y":{"field":"r0","type":"quantitative","stack":null,"scale":{"domain":[0.5,24.5],"reverse":true,"nice":false,"zero":false},"axis":null}}},
     {"mark":{"type":"rule","color":"#444","strokeWidth":0.8,"yOffset":-3.515,"y2Offset":-2.5},"encoding":{"y":{"field":"r0","type":"quantitative","scale":{"domain":[0.5,24.5],"reverse":true,"nice":false,"zero":false},"axis":null},"y2":{"field":"rm"}}},
     {"mark":{"type":"arc","theta":1.5708,"theta2":3.1416,"radius":2.9,"radius2":2.1,"fill":"#444","xOffset":-2.5,"yOffset":-2.5},"encoding":{"y":{"field":"rm","type":"quantitative","stack":null,"scale":{"domain":[0.5,24.5],"reverse":true,"nice":false,"zero":false},"axis":null}}},
     {"mark":{"type":"arc","theta":0,"theta2":1.5708,"radius":2.9,"radius2":2.1,"fill":"#444","xOffset":-2.5,"yOffset":2.5},"encoding":{"y":{"field":"rm","type":"quantitative","stack":null,"scale":{"domain":[0.5,24.5],"reverse":true,"nice":false,"zero":false},"axis":null}}},
     {"mark":{"type":"rule","color":"#444","strokeWidth":0.8,"yOffset":2.5,"y2Offset":3.515},"encoding":{"y":{"field":"rm","type":"quantitative","scale":{"domain":[0.5,24.5],"reverse":true,"nice":false,"zero":false},"axis":null},"y2":{"field":"r1"}}},
     {"mark":{"type":"arc","theta":3.1416,"theta2":4.712,"radius":2.9,"radius2":2.1,"fill":"#444","xOffset":2.5,"yOffset":3.515},"encoding":{"y":{"field":"r1","type":"quantitative","stack":null,"scale":{"domain":[0.5,24.5],"reverse":true,"nice":false,"zero":false},"axis":null}}},
     {"mark":{"type":"tick","orient":"horizontal","size":3.5,"thickness":0.8,"color":"#444","xOffset":-4.3},"encoding":{"y":{"field":"rm","type":"quantitative","scale":{"domain":[0.5,24.5],"reverse":true,"nice":false,"zero":false},"axis":null}}}
    ]},
   {"transform":[{"filter":"datum.rank == 'ph' && datum.nc > 0"}],"mark":{"type":"text","align":"right","baseline":"middle","fontSize":11,"xOffset":-8},"encoding":{"y":{"field":"rm","type":"quantitative","scale":{"domain":[0.5,24.5],"reverse":true,"nice":false,"zero":false},"axis":null},"text":{"field":"grp"}}},
   {"transform":[{"filter":"datum.rank == 'ph' && datum.nc == 0"}],"mark":{"type":"text","align":"right","baseline":"middle","fontSize":11,"xOffset":-8},"encoding":{"x":{"datum":"cl","type":"nominal"},"y":{"field":"rm","type":"quantitative","scale":{"domain":[0.5,24.5],"reverse":true,"nice":false,"zero":false},"axis":null},"text":{"field":"grp"}}},
   {"transform":[{"filter":"datum.rank == 'cl'"}],"mark":{"type":"text","align":"right","baseline":"middle","fontSize":10.5,"xOffset":-8},"encoding":{"y":{"field":"rm","type":"quantitative","scale":{"domain":[0.5,24.5],"reverse":true,"nice":false,"zero":false},"axis":null},"text":{"field":"grp"}}},
   {"transform":[{"filter":"datum.rank == 'fa'"}],"mark":{"type":"text","align":"right","baseline":"middle","fontSize":9.5,"xOffset":-8},"encoding":{"y":{"field":"rm","type":"quantitative","scale":{"domain":[0.5,24.5],"reverse":true,"nice":false,"zero":false},"axis":null},"text":{"field":"grp"}}}
  ]},
 {"width":56,"height":336.7,"data":{"name":"SS"},"title":{"text":"Si solubilizers","offset":3},
  "transform":[{"fold":["Si_h","Si_m","Si_p"],"as":["cat","v"]},{"filter":"datum.v > 0"},{"stack":"v","groupby":["sp"],"as":["x0","x1"]}],
  "mark":{"type":"rect","stroke":"#444","strokeWidth":0.8},
  "encoding":{
   "y":{"field":"sp","type":"nominal","sort":null,"scale":{"paddingInner":0.43,"paddingOuter":0.215},"axis":{"title":null,"domain":false,"ticks":false,"labelPadding":13,"labelFontStyle":"italic","labelFontSize":10.5,"labelLimit":300}},
   "x":{"field":"x0","type":"quantitative","scale":{"domain":[0,100]},"axis":{"values":[0,50,100],"labelExpr":"datum.value + '%'","title":null,"grid":false,"offset":7,"tickSize":-3,"labelPadding":5,"labelFontSize":7.5,"labelFlush":false,"domainColor":"#555","tickColor":"#555","domainWidth":0.8,"tickWidth":0.8}},
   "x2":{"field":"x1"},
   "fill":{"condition":[{"test":"indexof(datum.cat,'_h')>0","value":"#000"},{"test":"indexof(datum.cat,'_m')>0","value":"#fff"}],
    "value":{"gradient":"linear","x1":0,"y1":0,"x2":1.12,"y2":0.16,"stops":[{"offset":0,"color":"#333"},{"offset":0.031,"color":"#fff"},{"offset":0.063,"color":"#333"},{"offset":0.094,"color":"#fff"},{"offset":0.125,"color":"#333"},{"offset":0.156,"color":"#fff"},{"offset":0.188,"color":"#333"},{"offset":0.219,"color":"#fff"},{"offset":0.25,"color":"#333"},{"offset":0.281,"color":"#fff"},{"offset":0.313,"color":"#333"},{"offset":0.344,"color":"#fff"},{"offset":0.375,"color":"#333"},{"offset":0.406,"color":"#fff"},{"offset":0.438,"color":"#333"},{"offset":0.469,"color":"#fff"},{"offset":0.5,"color":"#333"},{"offset":0.531,"color":"#fff"},{"offset":0.563,"color":"#333"},{"offset":0.594,"color":"#fff"},{"offset":0.625,"color":"#333"},{"offset":0.656,"color":"#fff"},{"offset":0.688,"color":"#333"},{"offset":0.719,"color":"#fff"},{"offset":0.75,"color":"#333"},{"offset":0.781,"color":"#fff"},{"offset":0.813,"color":"#333"},{"offset":0.844,"color":"#fff"},{"offset":0.875,"color":"#333"},{"offset":0.906,"color":"#fff"},{"offset":0.938,"color":"#333"},{"offset":0.969,"color":"#fff"},{"offset":1,"color":"#333"}]}}
  }},
 {"width":56,"height":336.7,"data":{"name":"SS"},"title":{"text":"Al solubilizers","offset":3},
  "transform":[{"fold":["Al_h","Al_m","Al_p"],"as":["cat","v"]},{"filter":"datum.v > 0"},{"stack":"v","groupby":["sp"],"as":["x0","x1"]}],
  "mark":{"type":"rect","stroke":"#444","strokeWidth":0.8},
  "encoding":{
   "y":{"field":"sp","type":"nominal","sort":null,"scale":{"paddingInner":0.43,"paddingOuter":0.215},"axis":null},
   "x":{"field":"x0","type":"quantitative","scale":{"domain":[0,100]},"axis":{"values":[0,50,100],"labelExpr":"datum.value + '%'","title":null,"grid":false,"offset":7,"tickSize":-3,"labelPadding":5,"labelFontSize":7.5,"labelFlush":false,"domainColor":"#555","tickColor":"#555","domainWidth":0.8,"tickWidth":0.8}},
   "x2":{"field":"x1"},
   "fill":{"condition":[{"test":"indexof(datum.cat,'_h')>0","value":"#000"},{"test":"indexof(datum.cat,'_m')>0","value":"#fff"},{"test":"datum.v >= 60","value":{"gradient":"linear","x1":0,"y1":0,"x2":1.12,"y2":0.16,"stops":[{"offset":0,"color":"#333"},{"offset":0.031,"color":"#fff"},{"offset":0.063,"color":"#333"},{"offset":0.094,"color":"#fff"},{"offset":0.125,"color":"#333"},{"offset":0.156,"color":"#fff"},{"offset":0.188,"color":"#333"},{"offset":0.219,"color":"#fff"},{"offset":0.25,"color":"#333"},{"offset":0.281,"color":"#fff"},{"offset":0.313,"color":"#333"},{"offset":0.344,"color":"#fff"},{"offset":0.375,"color":"#333"},{"offset":0.406,"color":"#fff"},{"offset":0.438,"color":"#333"},{"offset":0.469,"color":"#fff"},{"offset":0.5,"color":"#333"},{"offset":0.531,"color":"#fff"},{"offset":0.563,"color":"#333"},{"offset":0.594,"color":"#fff"},{"offset":0.625,"color":"#333"},{"offset":0.656,"color":"#fff"},{"offset":0.688,"color":"#333"},{"offset":0.719,"color":"#fff"},{"offset":0.75,"color":"#333"},{"offset":0.781,"color":"#fff"},{"offset":0.813,"color":"#333"},{"offset":0.844,"color":"#fff"},{"offset":0.875,"color":"#333"},{"offset":0.906,"color":"#fff"},{"offset":0.938,"color":"#333"},{"offset":0.969,"color":"#fff"},{"offset":1,"color":"#333"}]}},{"test":"datum.v >= 35","value":{"gradient":"linear","x1":0,"y1":0,"x2":1.19,"y2":0.34,"stops":[{"offset":0,"color":"#333"},{"offset":0.063,"color":"#fff"},{"offset":0.125,"color":"#333"},{"offset":0.188,"color":"#fff"},{"offset":0.25,"color":"#333"},{"offset":0.313,"color":"#fff"},{"offset":0.375,"color":"#333"},{"offset":0.438,"color":"#fff"},{"offset":0.5,"color":"#333"},{"offset":0.563,"color":"#fff"},{"offset":0.625,"color":"#333"},{"offset":0.688,"color":"#fff"},{"offset":0.75,"color":"#333"},{"offset":0.813,"color":"#fff"},{"offset":0.875,"color":"#333"},{"offset":0.938,"color":"#fff"},{"offset":1,"color":"#333"}]}}],
    "value":{"gradient":"linear","x1":0,"y1":0,"x2":1.185,"y2":0.675,"stops":[{"offset":0,"color":"#333"},{"offset":0.125,"color":"#fff"},{"offset":0.25,"color":"#333"},{"offset":0.375,"color":"#fff"},{"offset":0.5,"color":"#333"},{"offset":0.625,"color":"#fff"},{"offset":0.75,"color":"#333"},{"offset":0.875,"color":"#fff"},{"offset":1,"color":"#333"}]}}
  }},
 {"width":56,"height":336.7,"data":{"name":"SS"},"title":{"text":"Fe solubilizers","offset":3},
  "transform":[{"fold":["Fe_h","Fe_m","Fe_p"],"as":["cat","v"]},{"filter":"datum.v > 0"},{"stack":"v","groupby":["sp"],"as":["x0","x1"]}],
  "mark":{"type":"rect","stroke":"#444","strokeWidth":0.8},
  "encoding":{
   "y":{"field":"sp","type":"nominal","sort":null,"scale":{"paddingInner":0.43,"paddingOuter":0.215},"axis":null},
   "x":{"field":"x0","type":"quantitative","scale":{"domain":[0,100]},"axis":{"values":[0,50,100],"labelExpr":"datum.value + '%'","title":null,"grid":false,"offset":7,"tickSize":-3,"labelPadding":5,"labelFontSize":7.5,"labelFlush":false,"domainColor":"#555","tickColor":"#555","domainWidth":0.8,"tickWidth":0.8}},
   "x2":{"field":"x1"},
   "fill":{"condition":[{"test":"indexof(datum.cat,'_h')>0","value":"#000"},{"test":"indexof(datum.cat,'_m')>0","value":"#fff"},{"test":"datum.v >= 60","value":{"gradient":"linear","x1":0,"y1":0,"x2":1.12,"y2":0.16,"stops":[{"offset":0,"color":"#333"},{"offset":0.031,"color":"#fff"},{"offset":0.063,"color":"#333"},{"offset":0.094,"color":"#fff"},{"offset":0.125,"color":"#333"},{"offset":0.156,"color":"#fff"},{"offset":0.188,"color":"#333"},{"offset":0.219,"color":"#fff"},{"offset":0.25,"color":"#333"},{"offset":0.281,"color":"#fff"},{"offset":0.313,"color":"#333"},{"offset":0.344,"color":"#fff"},{"offset":0.375,"color":"#333"},{"offset":0.406,"color":"#fff"},{"offset":0.438,"color":"#333"},{"offset":0.469,"color":"#fff"},{"offset":0.5,"color":"#333"},{"offset":0.531,"color":"#fff"},{"offset":0.563,"color":"#333"},{"offset":0.594,"color":"#fff"},{"offset":0.625,"color":"#333"},{"offset":0.656,"color":"#fff"},{"offset":0.688,"color":"#333"},{"offset":0.719,"color":"#fff"},{"offset":0.75,"color":"#333"},{"offset":0.781,"color":"#fff"},{"offset":0.813,"color":"#333"},{"offset":0.844,"color":"#fff"},{"offset":0.875,"color":"#333"},{"offset":0.906,"color":"#fff"},{"offset":0.938,"color":"#333"},{"offset":0.969,"color":"#fff"},{"offset":1,"color":"#333"}]}}],
    "value":{"gradient":"linear","x1":0,"y1":0,"x2":1.19,"y2":0.34,"stops":[{"offset":0,"color":"#333"},{"offset":0.063,"color":"#fff"},{"offset":0.125,"color":"#333"},{"offset":0.188,"color":"#fff"},{"offset":0.25,"color":"#333"},{"offset":0.313,"color":"#fff"},{"offset":0.375,"color":"#333"},{"offset":0.438,"color":"#fff"},{"offset":0.5,"color":"#333"},{"offset":0.563,"color":"#fff"},{"offset":0.625,"color":"#333"},{"offset":0.688,"color":"#fff"},{"offset":0.75,"color":"#333"},{"offset":0.813,"color":"#fff"},{"offset":0.875,"color":"#333"},{"offset":0.938,"color":"#fff"},{"offset":1,"color":"#333"}]}}
  }},
 {"width":150,"height":336.7,"data":{"name":"leg"},
  "encoding":{"y":{"field":"cat","type":"nominal","sort":null,"scale":{"type":"point","range":[156.7,188.7],"padding":0},"axis":null}},
  "layer":[
   {"mark":{"type":"square","size":49,"opacity":1,"stroke":"#222","strokeWidth":0.8},"encoding":{"x":{"datum":"sw","type":"nominal","scale":{"type":"point","domain":["sw","lab"],"range":[53.5,65],"padding":0},"axis":null},"fill":{"condition":[{"test":"datum.k=='h'","value":"#000"},{"test":"datum.k=='m'","value":"#fff"}],"value":{"gradient":"linear","x1":0,"y1":1,"x2":1,"y2":0,"stops":[{"offset":0,"color":"#333"},{"offset":0.167,"color":"#fff"},{"offset":0.333,"color":"#333"},{"offset":0.5,"color":"#fff"},{"offset":0.667,"color":"#333"},{"offset":0.833,"color":"#fff"},{"offset":1,"color":"#333"}]}}}},
   {"mark":{"type":"text","align":"left","baseline":"middle","fontSize":11},"encoding":{"x":{"datum":"lab","type":"nominal"},"text":{"field":"cat"}}}
  ]}
 ], "spacing": 21, "bounds": "flush"}
]
}
